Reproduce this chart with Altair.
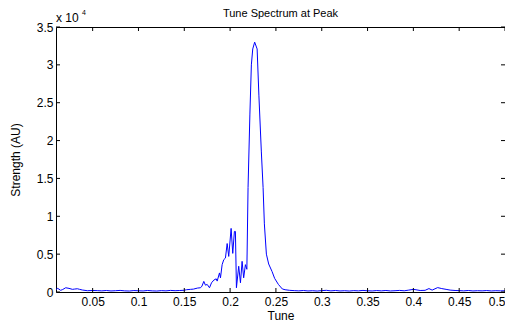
import altair as alt
import pandas as pd

# ---- data ----
tune = [
    0.010, 0.0119, 0.0151, 0.0173, 0.0206, 0.0242, 0.0279, 0.0304, 0.0333, 0.0358,
    0.0388, 0.0442, 0.050, 0.055, 0.060, 0.065, 0.070, 0.075, 0.080, 0.085,
    0.090, 0.095, 0.100, 0.105, 0.110, 0.115, 0.120, 0.125, 0.130, 0.135,
    0.140, 0.145, 0.150, 0.1524, 0.1568, 0.1600, 0.1644, 0.1677, 0.1693, 0.1713,
    0.1731, 0.1750, 0.1775, 0.1797, 0.1822, 0.1848, 0.1859, 0.1884, 0.1895, 0.1913,
    0.1931, 0.1949, 0.1968, 0.1985, 0.2011, 0.2029, 0.2047, 0.2058, 0.2069, 0.2094,
    0.2113, 0.2131, 0.2148, 0.2167, 0.2183, 0.2196, 0.2216, 0.2232, 0.2247, 0.2268,
    0.2295, 0.2314, 0.2341, 0.2360, 0.2374, 0.2396, 0.2421, 0.2458, 0.2486, 0.2527,
    0.2570, 0.260, 0.265, 0.270, 0.275, 0.280, 0.285, 0.290, 0.295, 0.300,
    0.305, 0.310, 0.315, 0.320, 0.325, 0.330, 0.335, 0.340, 0.345, 0.350,
    0.355, 0.360, 0.365, 0.370, 0.375, 0.380, 0.385, 0.390, 0.395, 0.4001,
    0.4074, 0.4128, 0.4170, 0.4205, 0.4265, 0.4310, 0.4357, 0.4401, 0.4455, 0.450,
    0.455, 0.460, 0.465, 0.470, 0.475, 0.480, 0.485, 0.490, 0.495, 0.500,
]
strength = [
    330, 480, 220, 330, 560, 480, 350, 390, 430, 350,
    260, 170, 200, 180, 150, 200, 140, 170, 210, 150,
    130, 190, 160, 140, 200, 150, 130, 180, 150, 210,
    170, 200, 230, 300, 350, 380, 520, 560, 780, 1400,
    900, 1000, 560, 1210, 1570, 1740, 1440, 2520, 1870, 3610,
    4270, 4480, 6400, 4700, 8400, 5100, 8000, 8000, 560, 3400,
    1220, 4050, 1870, 3610, 3000, 13800, 23500, 30000, 32100, 33000,
    32100, 26000, 18500, 13800, 9000, 5000, 3700, 2700, 1800, 1000,
    400, 300, 220, 180, 150, 200, 140, 170, 130, 180,
    220, 150, 200, 140, 170, 130, 180, 150, 210, 160,
    140, 190, 150, 200, 140, 170, 210, 160, 250, 350,
    200, 220, 450, 250, 580, 450, 350, 250, 200, 180,
    150, 200, 140, 170, 150, 190, 140, 170, 150, 160,
]
x_ticks = [0.05, 0.1, 0.15, 0.2, 0.25, 0.3, 0.35, 0.4, 0.45, 0.5]
y_ticks = [0, 5000, 10000, 15000, 20000, 25000, 30000, 35000]

title_text = "Tune Spectrum at Peak"
x_title = "Tune"
y_title = "Strength (AU)"
exp_base = "x 10"
exp_power = "4"

W, H = 449, 265
FONT = "Liberation Sans"

df = pd.DataFrame({"tune": tune, "strength": strength})
xt = pd.DataFrame({"tune": x_ticks})
yt = pd.DataFrame({"strength": y_ticks})

xscale = alt.Scale(domain=[0.01, 0.5], nice=False, zero=False)
yscale = alt.Scale(domain=[0, 35000], nice=False)

xaxis = alt.Axis(values=x_ticks, labelExpr="format(datum.value, '.2~f')",
                 title=x_title, labelPadding=4, labelOverlap=False, labelFlush=True,
                 titleX=W / 2, titleY=27, titleBaseline="alphabetic",
                 titleAlign="center")
yaxis = alt.Axis(values=y_ticks, labelExpr="format(datum.value / 10000, '.1~f')",
                 title=y_title, labelPadding=3, labelOverlap=False, labelFlush=False,
                 titleX=-37, titleY=H / 2, titleBaseline="alphabetic",
                 titleAlign="center", titleAngle=270)

line = alt.Chart(df).mark_line(color="#0000ff", strokeWidth=1, clip=True).encode(
    x=alt.X("tune:Q", scale=xscale, axis=xaxis),
    y=alt.Y("strength:Q", scale=yscale, axis=yaxis),
)

tick_len = 4
bottom_ticks = alt.Chart(xt).mark_rule(color="black", strokeWidth=1).encode(
    x=alt.X("tune:Q", scale=xscale, axis=xaxis), y=alt.value(H), y2=alt.value(H - tick_len))
top_ticks = alt.Chart(xt).mark_rule(color="black", strokeWidth=1).encode(
    x=alt.X("tune:Q", scale=xscale, axis=xaxis), y=alt.value(0), y2=alt.value(tick_len))
left_ticks = alt.Chart(yt).mark_rule(color="black", strokeWidth=1).encode(
    y=alt.Y("strength:Q", scale=yscale, axis=yaxis), x=alt.value(0), x2=alt.value(tick_len))
right_ticks = alt.Chart(yt).mark_rule(color="black", strokeWidth=1).encode(
    y=alt.Y("strength:Q", scale=yscale, axis=yaxis), x=alt.value(W), x2=alt.value(W - tick_len))

title_mark = alt.Chart(pd.DataFrame({"t": [title_text]})).mark_text(
    font=FONT, fontSize=11, align="center", baseline="alphabetic", color="black"
).encode(text="t:N", x=alt.value(W / 2), y=alt.value(-10))

exp_mark = alt.Chart(pd.DataFrame({"t": [exp_base]})).mark_text(
    font=FONT, fontSize=12, align="left", baseline="alphabetic", color="black"
).encode(text="t:N", x=alt.value(0), y=alt.value(-5))

pow_mark = alt.Chart(pd.DataFrame({"t": [exp_power]})).mark_text(
    font=FONT, fontSize=7, align="left", baseline="alphabetic", color="black"
).encode(text="t:N", x=alt.value(26), y=alt.value(-12))

chart = alt.layer(
    line, bottom_ticks, top_ticks, left_ticks, right_ticks, title_mark, exp_mark, pow_mark
).properties(
    width=W, height=H,
    autosize="none",
    background="white",
    padding={"left": 48, "top": 19, "right": 0, "bottom": 30},
).configure_view(
    stroke="black", strokeWidth=1
).configure_axis(
    domain=False, ticks=False, grid=False,
    labelFont=FONT, labelFontSize=12, labelColor="black",
    titleFont=FONT, titleFontSize=12, titleColor="black", titleFontWeight="normal",
)

chart.save("out.html", embed_options={"renderer": "svg", "actions": False})
